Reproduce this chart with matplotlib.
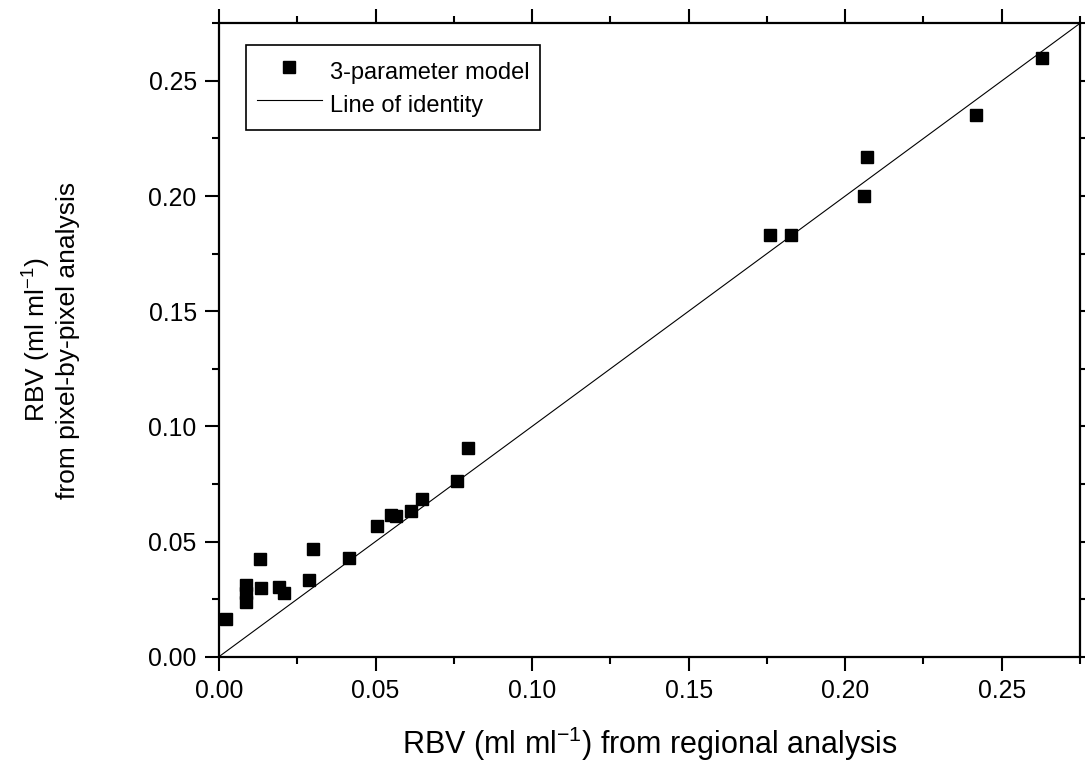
import matplotlib
matplotlib.use("Agg")
import matplotlib.pyplot as plt
from matplotlib.ticker import MultipleLocator

plt.rcParams['font.family'] = ['Liberation Sans', 'DejaVu Sans']
plt.rcParams['mathtext.fontset'] = 'custom'
plt.rcParams['mathtext.rm'] = 'Liberation Sans'
plt.rcParams['mathtext.it'] = 'Liberation Sans'

# RBV from regional analysis vs pixel-by-pixel analysis (3-parameter model)
rbv_regional = [0.0021, 0.0085, 0.0085, 0.0087, 0.0131, 0.0133, 0.0192, 0.0208,
                0.0287, 0.0301, 0.0416, 0.0505, 0.0551, 0.0565, 0.0613, 0.0647,
                0.0759, 0.0794, 0.1759, 0.1828, 0.2059, 0.2070, 0.2419, 0.2630]
rbv_pixel = [0.0164, 0.0239, 0.0275, 0.0311, 0.0424, 0.0300, 0.0304, 0.0278,
             0.0333, 0.0466, 0.0427, 0.0567, 0.0615, 0.0612, 0.0634, 0.0683,
             0.0764, 0.0907, 0.1830, 0.1830, 0.2000, 0.2170, 0.2350, 0.2600]
identity = [0.0, 0.275]

fig = plt.figure(figsize=(10.85, 7.67), dpi=100)
ax = fig.add_axes([0.2018, 0.1438, 0.7936, 0.8258])

ax.plot(rbv_regional, rbv_pixel, 's', color='black', markersize=8.6,
        label='3-parameter model', zorder=3)
ax.plot(identity, identity, '-', color='black', linewidth=0.8,
        label='Line of identity', zorder=2)

ax.set_xlim(0, 0.275)
ax.set_ylim(0, 0.275)
for a in (ax.xaxis, ax.yaxis):
    a.set_major_locator(MultipleLocator(0.05))
    a.set_minor_locator(MultipleLocator(0.025))
ax.xaxis.set_major_formatter('{x:.2f}')
ax.yaxis.set_major_formatter('{x:.2f}')

for s in ax.spines.values():
    s.set_linewidth(1.6)
ax.tick_params(which='both', direction='out', top=True, right=True, width=1.5,
               labelsize=17.8)
ax.tick_params(which='major', length=10, pad=6)
ax.tick_params(which='minor', length=5)

ax.set_xlabel(r'RBV (ml ml$^{-1}$) from regional analysis', fontsize=22, labelpad=16)
ax.set_ylabel('RBV (ml ml$^{-1}$)\nfrom pixel-by-pixel analysis', fontsize=19,
              linespacing=1.2)
ax.yaxis.set_label_coords(-0.161, 0.5)

leg = ax.legend(loc='upper left', bbox_to_anchor=(0.0314, 0.9653), borderaxespad=0,
                fontsize=17, frameon=True, fancybox=False, edgecolor='black',
                framealpha=1, handlelength=2.75, handleheight=1.6,
                handletextpad=0.35, labelspacing=0.1, borderpad=0.45)
leg.get_frame().set_linewidth(1.2)

fig.savefig('out.png', dpi=100)
